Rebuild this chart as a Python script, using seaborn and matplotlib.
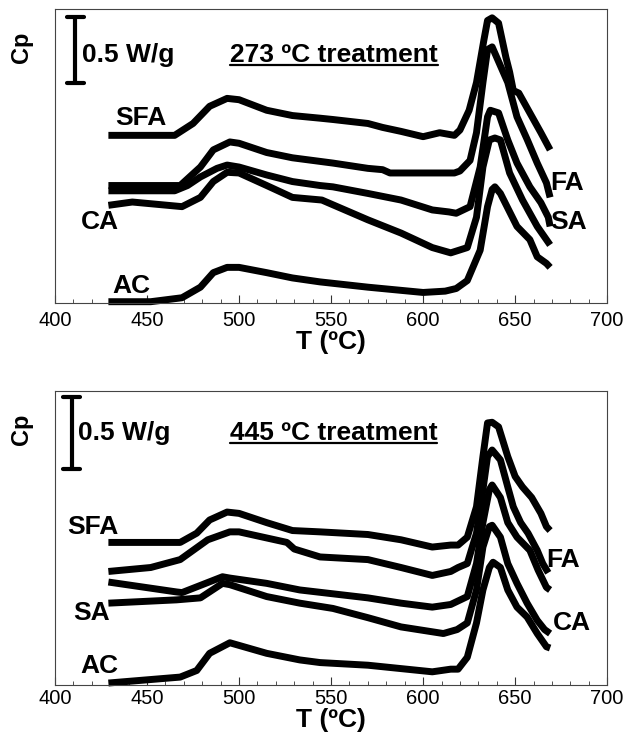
import matplotlib
matplotlib.use("Agg")
import matplotlib.pyplot as plt
from matplotlib.ticker import MultipleLocator
import pandas as pd
import seaborn as sns

# ---------------------------------------------------------
# Datos (T en ºC, Cp en W/g con offset)
# ---------------------------------------------------------
# 273 ºC treatment
T_SFA_273 = [429, 465, 475, 484, 493.5, 500, 515, 529, 544, 551, 570, 578, 588, 600, 609, 617,
             620, 625, 629, 633, 635, 637.5, 641, 645, 647, 649, 652, 654, 658, 664, 669]
CP_SFA_273 = [1.27, 1.27, 1.36, 1.49, 1.55, 1.54, 1.46, 1.42, 1.40, 1.39, 1.36, 1.33, 1.30, 1.26, 1.29, 1.27,
              1.31, 1.46, 1.67, 1.99, 2.14, 2.16, 2.12, 1.86, 1.75, 1.61, 1.59, 1.54, 1.44, 1.29, 1.16]

T_FA_273 = [429, 465, 468, 479, 486, 495, 500, 515, 529, 540, 551, 570, 578, 582, 600, 617,
            620, 625.5, 629, 632.5, 635, 637.5, 646, 651, 656.5, 662, 667, 669]
CP_FA_273 = [0.89, 0.89, 0.89, 1.03, 1.16, 1.22, 1.21, 1.14, 1.10, 1.08, 1.06, 1.02, 1.01, 0.985, 0.985, 0.985,
             1.00, 1.08, 1.29, 1.67, 1.92, 1.94, 1.67, 1.41, 1.24, 1.06, 0.91, 0.80]

T_SA_273 = [429, 465, 472, 479, 488, 493.5, 500, 515, 529, 544, 551, 570, 588, 605, 614, 618,
            625.5, 631, 635, 636.5, 641, 646, 651, 658, 664, 668, 669]
CP_SA_273 = [0.85, 0.85, 0.89, 0.955, 1.02, 1.045, 1.03, 0.97, 0.92, 0.89, 0.88, 0.83, 0.78, 0.705, 0.69, 0.68,
             0.73, 1.03, 1.41, 1.46, 1.44, 1.235, 1.06, 0.88, 0.76, 0.65, 0.58]

T_CA_273 = [429, 442, 469, 479, 486, 493.5, 500, 515, 529, 545, 570, 588, 605, 615, 624, 629,
            632.5, 636, 639, 642, 647, 654, 662, 667, 669]
CP_CA_273 = [0.74, 0.765, 0.73, 0.80, 0.92, 0.99, 0.985, 0.89, 0.80, 0.78, 0.63, 0.53, 0.42, 0.38, 0.42, 0.65,
             1.03, 1.235, 1.25, 1.235, 0.985, 0.78, 0.58, 0.48, 0.44]

T_AC_273 = [429, 452, 469, 479, 486, 493.5, 500, 515, 529, 544, 570, 600, 612, 618, 624, 631,
            635, 637.5, 639, 642, 651, 658, 662, 667, 669]
CP_AC_273 = [0.01, 0.01, 0.04, 0.12, 0.23, 0.27, 0.27, 0.23, 0.19, 0.16, 0.12, 0.08, 0.09, 0.11, 0.17, 0.40,
             0.73, 0.86, 0.88, 0.83, 0.58, 0.48, 0.35, 0.30, 0.27]

# 445 ºC treatment
T_SFA_445 = [429, 468, 477, 484, 493.5, 500, 515, 529, 544, 570, 588, 605, 615, 619, 624, 629,
             632.5, 635, 637.5, 641, 646, 650, 654, 659, 664, 667, 669]
CP_SFA_445 = [1.08, 1.08, 1.15, 1.25, 1.31, 1.30, 1.23, 1.17, 1.16, 1.14, 1.10, 1.045, 1.06, 1.06, 1.12, 1.35,
              1.73, 1.985, 1.99, 1.955, 1.73, 1.58, 1.50, 1.42, 1.30, 1.20, 1.17]

T_FA_445 = [429, 452, 468, 483, 495, 500, 526, 530, 544, 570, 588, 605, 615, 619, 624, 629,
            632.5, 635, 637.5, 642, 646, 649, 653, 657, 662, 665, 668]
CP_FA_445 = [0.86, 0.89, 0.95, 1.10, 1.16, 1.16, 1.08, 1.03, 0.97, 0.95, 0.89, 0.83, 0.86, 0.89, 0.92, 1.15,
             1.48, 1.73, 1.78, 1.705, 1.50, 1.35, 1.23, 1.15, 1.02, 0.92, 0.85]

T_CA_445 = [429, 466, 469, 480, 491, 495, 515, 533, 570, 588, 605, 615, 624, 629, 632.5, 636,
            637.5, 642, 646, 651, 658, 662.5, 667, 669]
CP_CA_445 = [0.78, 0.705, 0.70, 0.76, 0.82, 0.81, 0.77, 0.72, 0.66, 0.62, 0.59, 0.61, 0.67, 0.92, 1.23, 1.48,
             1.515, 1.42, 1.23, 1.12, 1.02, 0.87, 0.74, 0.72]

T_SA_445 = [429, 466, 479, 491, 495, 515, 533, 551, 570, 588, 611, 618.5, 624, 629, 632.5, 636,
            637.5, 642, 646, 651, 656.5, 662, 666, 669]
CP_SA_445 = [0.62, 0.645, 0.66, 0.77, 0.76, 0.67, 0.62, 0.58, 0.51, 0.44, 0.39, 0.42, 0.47, 0.72, 1.045, 1.20,
             1.21, 1.12, 0.92, 0.77, 0.62, 0.49, 0.42, 0.39]

T_AC_445 = [429, 468, 477, 484, 495, 500, 515, 533, 544, 570, 605, 615, 619, 624, 629, 632.5,
            636, 638, 642, 646, 651, 656.5, 662, 667, 669]
CP_AC_445 = [0.015, 0.06, 0.11, 0.24, 0.32, 0.30, 0.24, 0.19, 0.17, 0.15, 0.10, 0.12, 0.12, 0.21, 0.47, 0.72,
             0.89, 0.93, 0.89, 0.72, 0.59, 0.515, 0.39, 0.29, 0.28]

TITULOS = ["273 ºC treatment", "445 ºC treatment"]

CURVAS = [
    {"SFA": (T_SFA_273, CP_SFA_273), "FA": (T_FA_273, CP_FA_273), "SA": (T_SA_273, CP_SA_273),
     "CA": (T_CA_273, CP_CA_273), "AC": (T_AC_273, CP_AC_273)},
    {"SFA": (T_SFA_445, CP_SFA_445), "FA": (T_FA_445, CP_FA_445), "CA": (T_CA_445, CP_CA_445),
     "SA": (T_SA_445, CP_SA_445), "AC": (T_AC_445, CP_AC_445)},
]

# posiciones de las etiquetas de cada curva (T, Cp)
ETIQUETAS = [
    [("SFA", 446.7, 1.40), ("CA", 424.5, 0.61), ("AC", 441.3, 0.13), ("FA", 678.3, 0.91), ("SA", 678.8, 0.61)],
    [("SFA", 420.6, 1.20), ("SA", 420.1, 0.545), ("AC", 424.0, 0.144), ("FA", 676.1, 0.947), ("CA", 681.0, 0.47)],
]

# barra de escala (T, Cp inferior, Cp superior) y texto/titulo (baseline)
BARRAS = [(411, 1.667, 2.167), (409, 1.636, 2.18)]
BASE_TEXTO = [1.826, 1.856]

sns.set_theme(style="white")
plt.rcParams["font.family"] = ["Liberation Sans", "DejaVu Sans"]
plt.rcParams["text.color"] = "black"
plt.rcParams["axes.labelcolor"] = "black"
plt.rcParams["xtick.color"] = "black"

fig = plt.figure(figsize=(6.26, 7.38), dpi=100)
ejes = [fig.add_axes([0.0879, 0.5894, 0.882, 0.3984]),
        fig.add_axes([0.0879, 0.0718, 0.882, 0.3984])]

for i, ax in enumerate(ejes):
    filas = []
    for nombre, (t, cp) in CURVAS[i].items():
        filas.append(pd.DataFrame({"T": t, "Cp": cp, "curva": nombre}))
    df = pd.concat(filas, ignore_index=True)

    sns.lineplot(data=df, x="T", y="Cp", units="curva", estimator=None, sort=False,
                 color="black", lw=5.0, ax=ax, legend=False, clip_on=False,
                 solid_joinstyle="round", solid_capstyle="butt")

    ax.set_xlim(400, 700)
    ax.set_ylim(0, 2.227)
    ax.set_yticks([])
    ax.xaxis.set_major_locator(MultipleLocator(50))
    ax.xaxis.set_minor_locator(MultipleLocator(10))
    ax.tick_params(axis="x", which="both", direction="in", bottom=True, top=False,
                   color="#333333", labelcolor="black", labelsize=14.5, pad=6 if i == 0 else 3)
    ax.tick_params(axis="x", which="major", length=6, width=0.8)
    ax.tick_params(axis="x", which="minor", length=3, width=0.6)
    for sp in ax.spines.values():
        sp.set_linewidth(0.8)
        sp.set_color("#444444")

    ax.set_xlabel("T (ºC)", fontsize=19, fontweight="bold", labelpad=0, color="black")
    ax.set_ylabel("")
    ax.text(-0.06, 0.87, "Cp", transform=ax.transAxes, rotation=90, ha="center", va="center",
            fontsize=17, fontweight="bold")

    # barra de escala 0.5 W/g
    xb, y0, y1 = BARRAS[i]
    ax.plot([xb, xb], [y0, y1], color="black", lw=3)
    ax.plot([xb - 4.5, xb + 4.5], [y0, y0], color="black", lw=3)
    ax.plot([xb - 4.5, xb + 4.5], [y1, y1], color="black", lw=3)
    ax.text(xb + 3.5, BASE_TEXTO[i], "0.5 W/g", ha="left", va="baseline",
            fontsize=19, fontweight="bold")

    titulo = ax.text(495, BASE_TEXTO[i], TITULOS[i], ha="left", va="baseline",
                     fontsize=19, fontweight="bold")

    for nombre, x, y in ETIQUETAS[i]:
        ax.text(x, y, nombre, ha="center", va="center", fontsize=19, fontweight="bold")

    # subrayado del titulo
    fig.canvas.draw()
    bb = titulo.get_window_extent().transformed(ax.transData.inverted())
    y_sub = BASE_TEXTO[i] - 0.025
    ax.plot([bb.x0, bb.x1], [y_sub, y_sub], color="black", lw=1.6)

fig.savefig("out.png", dpi=100)
